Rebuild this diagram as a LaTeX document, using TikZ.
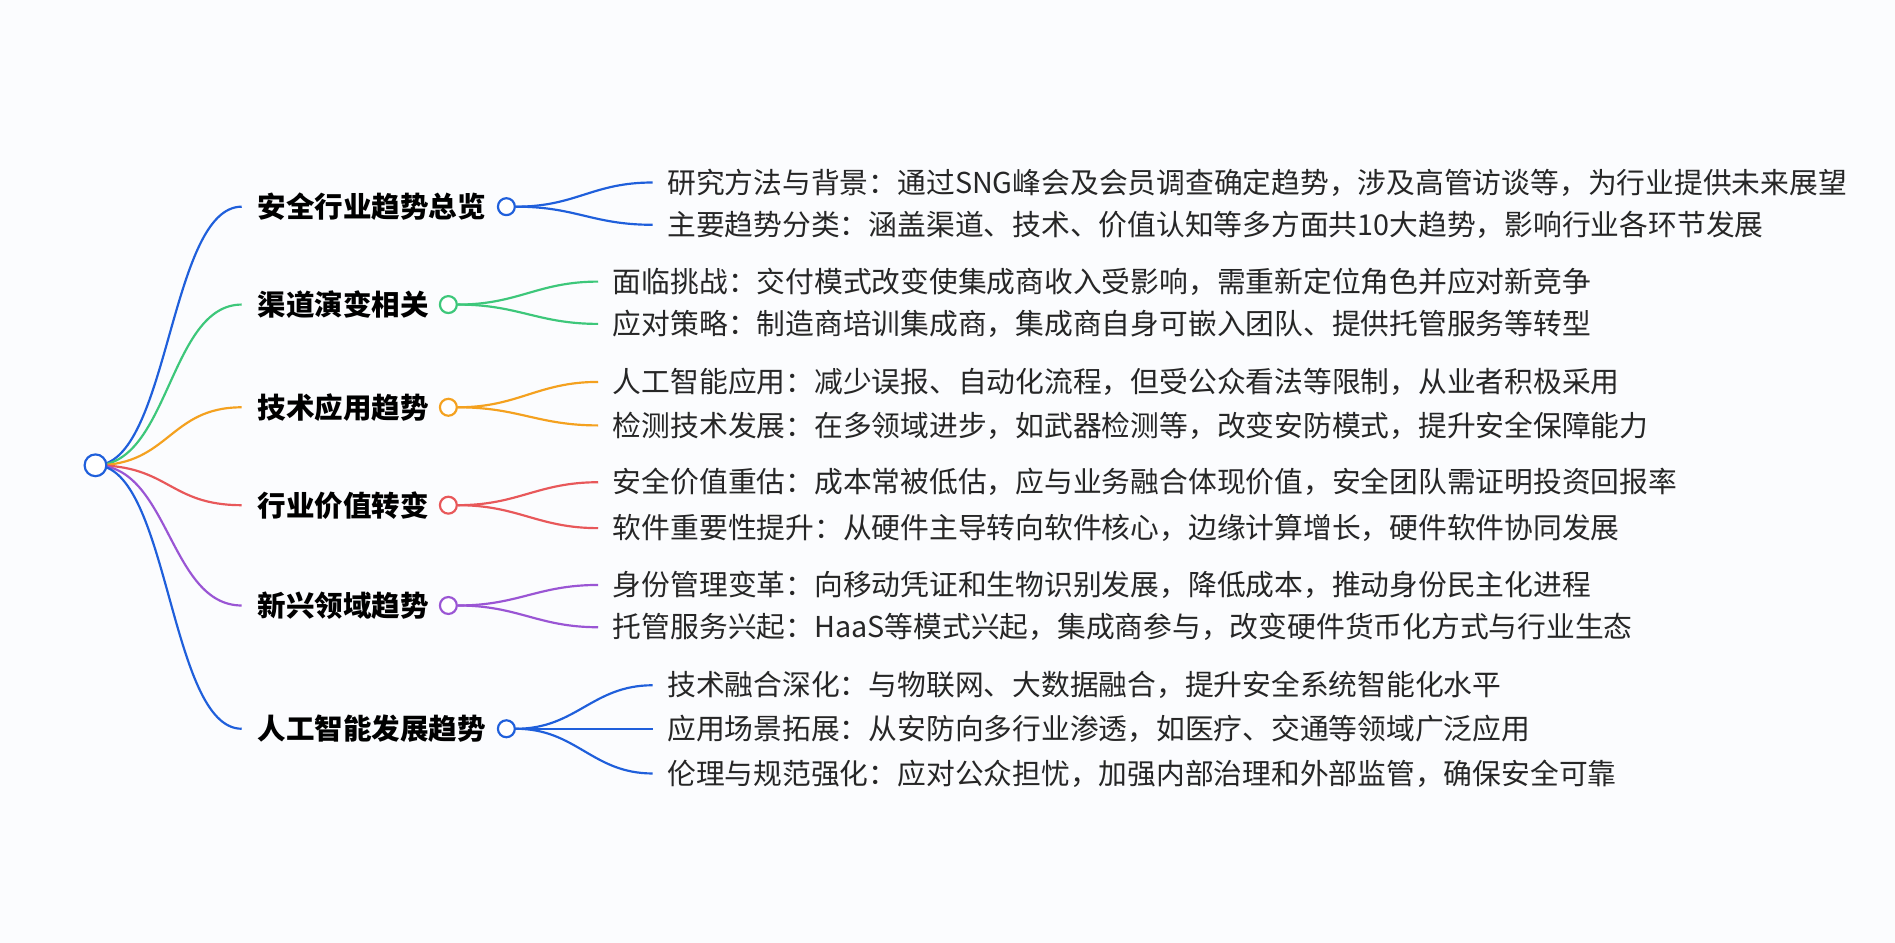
\documentclass[tikz,border=0pt]{standalone}
\usepackage{fontspec}
\setmainfont{Noto Sans CJK SC}
\begin{document}
\begin{tikzpicture}[x=1pt,y=-1pt,
  leaf/.style={anchor=west,inner sep=0pt,font=\fontsize{23.8}{26}\selectfont,text=black!85},
  br/.style={anchor=west,inner sep=0pt,font=\fontsize{23.6}{26}\selectfont\bfseries},
  dot/.style={circle,draw=#1,fill=white,line width=1.8pt,minimum size=14pt,inner sep=0pt},
  ln/.style={draw=#1,line width=1.8pt}]
\definecolor{bgc}{HTML}{FBFCFE}
\fill[bgc] (0,0) rectangle (1568,780);
\useasboundingbox (0,0) rectangle (1568,780);
\definecolor{cb}{HTML}{1F5FDB}
\definecolor{cg}{HTML}{3DC77A}
\definecolor{co}{HTML}{F4A11F}
\definecolor{cr}{HTML}{E8585A}
\definecolor{cp}{HTML}{9A55D4}
\coordinate (rootc) at (79,385);
\def\brn#1#2#3#4#5{%
 \coordinate (e#1) at (200,#3);
 \draw[ln=#2] (rootc) .. controls (140,385) and (140,#3) .. (e#1);
 \node[br] (b#1) at (213,#3) {#4};
 \node[dot=#2] (c#1) at (#5,#3) {};}
\brn{1}{cb}{171}{安全行业趋势总览}{419}
\brn{2}{cg}{252}{渠道演变相关}{371}
\brn{3}{co}{337}{技术应用趋势}{371}
\brn{4}{cr}{418}{行业价值转变}{371}
\brn{5}{cp}{501}{新兴领域趋势}{371}
\brn{6}{cb}{603}{人工智能发展趋势}{419}
\node[dot=cb,minimum size=18pt] (root) at (rootc) {};
\def\lf#1#2#3#4#5#6{%
 \coordinate (f#1) at (#4,#3);
 \draw[ln=#2] (c#6.east) .. controls ([xshift=50]c#6.east) and ([xshift=-50]f#1) .. (f#1);
 \node[leaf] (l#1) at ([xshift=12]f#1) {#5};}
\lf{a}{cb}{151}{540}{研究方法与背景：通过SNG峰会及会员调查确定趋势，涉及高管访谈等，为行业提供未来展望}{1}
\lf{b}{cb}{186}{540}{主要趋势分类：涵盖渠道、技术、价值认知等多方面共10大趋势，影响行业各环节发展}{1}
\lf{c}{cg}{233}{495}{面临挑战：交付模式改变使集成商收入受影响，需重新定位角色并应对新竞争}{2}
\lf{d}{cg}{268}{495}{应对策略：制造商培训集成商，集成商自身可嵌入团队、提供托管服务等转型}{2}
\lf{e}{co}{316}{495}{人工智能应用：减少误报、自动化流程，但受公众看法等限制，从业者积极采用}{3}
\lf{f}{co}{352}{495}{检测技术发展：在多领域进步，如武器检测等，改变安防模式，提升安全保障能力}{3}
\lf{g}{cr}{399}{495}{安全价值重估：成本常被低估，应与业务融合体现价值，安全团队需证明投资回报率}{4}
\lf{h}{cr}{437}{495}{软件重要性提升：从硬件主导转向软件核心，边缘计算增长，硬件软件协同发展}{4}
\lf{i}{cp}{484}{495}{身份管理变革：向移动凭证和生物识别发展，降低成本，推动身份民主化进程}{5}
\lf{j}{cp}{519}{495}{托管服务兴起：HaaS等模式兴起，集成商参与，改变硬件货币化方式与行业生态}{5}
\lf{k}{cb}{567}{540}{技术融合深化：与物联网、大数据融合，提升安全系统智能化水平}{6}
\lf{l}{cb}{603}{540}{应用场景拓展：从安防向多行业渗透，如医疗、交通等领域广泛应用}{6}
\lf{m}{cb}{640}{540}{伦理与规范强化：应对公众担忧，加强内部治理和外部监管，确保安全可靠}{6}
\end{tikzpicture}
\end{document}
